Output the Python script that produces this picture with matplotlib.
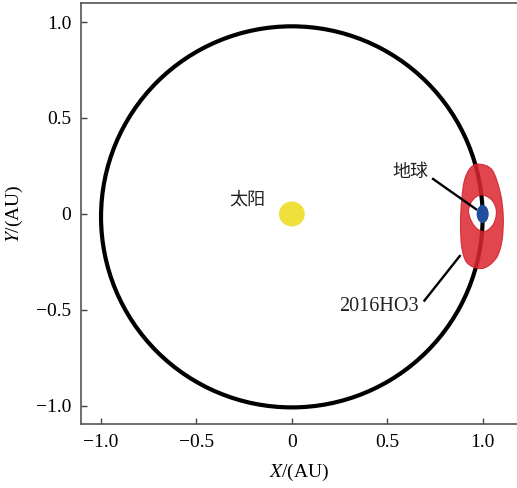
import numpy as np
import matplotlib
matplotlib.use("Agg")
import matplotlib.pyplot as plt
from matplotlib.patches import Circle, Ellipse, PathPatch
from matplotlib.path import Path

# ---- data ----
orbit_center = (0.0, -0.015)
orbit_width = 2.0
orbit_height = 1.985
sun_xy = (0.0, 0.0)
earth_xy = (1.0, 0.0)
# outer boundary of the 2016HO3 quasi-satellite loops
ho3_outer_x = [0.980, 1.050, 1.093, 1.108, 1.102, 1.076, 1.024, 0.971, 0.915, 0.890, 0.884, 0.890, 0.905, 0.936]
ho3_outer_y = [0.260, 0.229, 0.108, -0.014, -0.135, -0.222, -0.274, -0.283, -0.250, -0.170, -0.048, 0.073, 0.177, 0.240]
# inner (empty) region around Earth
ho3_inner_x = [0.997, 1.050, 1.072, 1.055, 1.006, 0.955, 0.926, 0.950]
ho3_inner_y = [0.099, 0.070, 0.012, -0.055, -0.092, -0.060, 0.012, 0.075]
xticks = [-1.0, -0.5, 0.0, 0.5, 1.0]
yticks = [-1.0, -0.5, 0.0, 0.5, 1.0]
xtick_labels = ["\u22121.0", "\u22120.5", "0", "0.5", "1.0"]
ytick_labels = ["\u22121.0", "\u22120.5", "0", "0.5", "1.0"]

plt.rcParams['mathtext.fontset'] = 'stix'
serif = ['Liberation Serif', 'DejaVu Serif']
cjk = ['Noto Sans CJK SC', 'DejaVu Sans']

fig = plt.figure(figsize=(5.17, 4.88), dpi=100)
ax = fig.add_axes([81/517, 64/488, 1 - 81/517, (424 - 3)/488])
ax.set_xlim(-1.105, 1.18)
ax.set_ylim(-1.094, 1.099)


def smooth_closed(xs, ys, reverse=False):
    pts = np.column_stack([xs, ys])
    if reverse:
        pts = pts[::-1]
    n = len(pts)
    verts = [pts[0]]
    codes = [Path.MOVETO]
    for i in range(n):
        p0 = pts[(i - 1) % n]
        p1 = pts[i]
        p2 = pts[(i + 1) % n]
        p3 = pts[(i + 2) % n]
        c1 = p1 + (p2 - p0) / 6.0
        c2 = p2 - (p3 - p1) / 6.0
        verts += [c1, c2, p2]
        codes += [Path.CURVE4] * 3
    return verts, codes

# Earth orbit
ax.add_patch(Ellipse(orbit_center, orbit_width, orbit_height, fill=False, ec='black', lw=3.0, zorder=2))

# 2016HO3 loops region (ring with hole)
vo, co = smooth_closed(ho3_outer_x, ho3_outer_y)
vi, ci = smooth_closed(ho3_inner_x, ho3_inner_y, reverse=True)
ring = Path(np.array(vo + vi), co + ci)
ax.add_patch(PathPatch(ring, fc='#dc2630', ec='#d0202c', lw=0.8, alpha=0.86, zorder=3))

# Sun and Earth
ax.add_patch(Ellipse(sun_xy, 0.135, 0.13, fc='#efe03c', ec='none', zorder=4))
ax.add_patch(Ellipse(earth_xy, 0.063, 0.094, fc='#1f4e9e', ec='none', zorder=5))

# annotations
ax.plot([0.735, 0.971], [0.186, 0.021], color='black', lw=1.7, zorder=6, solid_capstyle='butt')
ax.plot([0.691, 0.884], [-0.456, -0.214], color='black', lw=1.7, zorder=6, solid_capstyle='butt')
ax.text(0.621, 0.219, '地球', family=cjk, fontsize=13, ha='center', va='center', color='#222222')
ax.text(-0.236, 0.073, '太阳', family=cjk, fontsize=13, ha='center', va='center', color='#222222')
ax.text(0.458, -0.484, '2016HO3', family=serif, fontsize=14.5, ha='center', va='center', color='#222222')

ax.set_xticks(xticks)
ax.set_xticklabels(xtick_labels, family=serif, fontsize=14)
ax.set_yticks(yticks)
ax.set_yticklabels(ytick_labels, family=serif, fontsize=14)
ax.tick_params(direction='in', length=4, width=1, color='#444444', pad=7)
ax.spines['right'].set_visible(False)
for s in ['left', 'bottom', 'top']:
    ax.spines[s].set_color('#555555')
    ax.spines[s].set_linewidth(1.2)

ax.set_xlabel(r'$X$/(AU)', fontsize=14, family=serif, labelpad=8)
ax.set_ylabel(r'$Y$/(AU)', fontsize=14, family=serif, labelpad=8)

fig.savefig('out.png', dpi=100)
